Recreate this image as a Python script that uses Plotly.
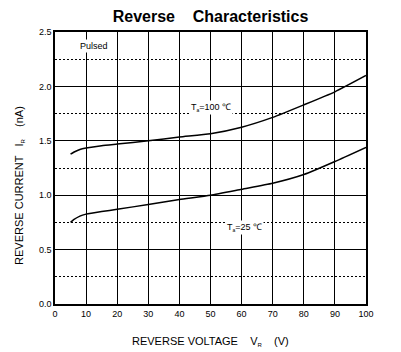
import plotly.graph_objects as go

# Data
vr_100 = [5, 6, 8, 10, 15, 20, 30, 40, 50, 60, 70, 80, 90, 100]
ir_100 = [1.377, 1.395, 1.42, 1.433, 1.455, 1.47, 1.50, 1.535, 1.565, 1.625, 1.715, 1.83, 1.95, 2.10]
vr_25 = [5, 6, 8, 10, 15, 20, 30, 40, 50, 60, 70, 80, 90, 100]
ir_25 = [0.75, 0.775, 0.808, 0.826, 0.85, 0.87, 0.915, 0.96, 1.0, 1.055, 1.11, 1.19, 1.31, 1.44]

x_ticks = [0, 10, 20, 30, 40, 50, 60, 70, 80, 90, 100]
y_ticks = [0.0, 0.5, 1.0, 1.5, 2.0, 2.5]
y_tick_text = ["0.0", "0.5", "1.0", "1.5", "2.0", "2.5"]

FONT = "Liberation Sans, Arial, sans-serif"

fig = go.Figure()
for xs, ys in [(vr_100, ir_100), (vr_25, ir_25)]:
    fig.add_trace(go.Scatter(x=xs, y=ys, mode="lines", line=dict(color="black", width=1.5, shape="spline", smoothing=0.5),
                             showlegend=False, hoverinfo="skip"))

fig.update_layout(
    width=401, height=352,
    margin=dict(l=54.5, r=34.5, t=32.3, b=48),
    paper_bgcolor="white", plot_bgcolor="white",
    font=dict(family=FONT, color="black", size=9),
    title=dict(text="<b>Reverse    Characteristics</b>", x=0.525, xanchor="center", y=0.952, yanchor="middle",
               font=dict(size=16, family=FONT, color="black")),
    xaxis=dict(range=[0, 100], tickvals=x_ticks, ticktext=[str(v) for v in x_ticks],
               showgrid=True, gridcolor="black", gridwidth=1.3,
               showline=True, linecolor="black", linewidth=1.5, mirror=True,
               ticks="", zeroline=False, tickfont=dict(size=9, family=FONT)),
    yaxis=dict(range=[0, 2.5], tickvals=y_ticks, ticktext=y_tick_text,
               showgrid=True, gridcolor="black", gridwidth=1.3,
               showline=True, linecolor="black", linewidth=1.5, mirror=True,
               ticks="", zeroline=False, tickfont=dict(size=9, family=FONT),
               minor=dict(dtick=0.25, tick0=0, showgrid=True, gridcolor="black", griddash="1.5px,2.5px", gridwidth=1.2)),
)

fig.add_annotation(text="REVERSE VOLTAGE    V<sub><span style='font-size:6px'>R</span></sub>    (V)",
                   xref="paper", yref="paper", x=0.5, y=-0.105, xanchor="center", yanchor="top",
                   showarrow=False, font=dict(size=11, family=FONT))
fig.add_annotation(text="REVERSE CURRENT   I<sub><span style='font-size:6px'>R</span></sub>    (nA)",
                   xref="paper", yref="paper", x=-0.115, y=0.435, xanchor="center", yanchor="middle",
                   textangle=-90, showarrow=False, font=dict(size=11, family=FONT))
fig.add_annotation(text="Pulsed", x=7.3, y=2.37, xanchor="left", yanchor="middle", showarrow=False,
                   bgcolor="white", font=dict(size=9, family=FONT))
fig.add_annotation(text="T<sub><span style='font-size:5px'>a</span></sub>=100 ℃", x=50, y=1.81, xanchor="center", yanchor="middle",
                   showarrow=False, bgcolor="white", font=dict(size=9, family=FONT))
fig.add_annotation(text="T<sub><span style='font-size:5px'>a</span></sub>=25 ℃", x=61, y=0.70, xanchor="center", yanchor="middle",
                   showarrow=False, bgcolor="white", font=dict(size=9, family=FONT))

fig.write_html("out.html")
